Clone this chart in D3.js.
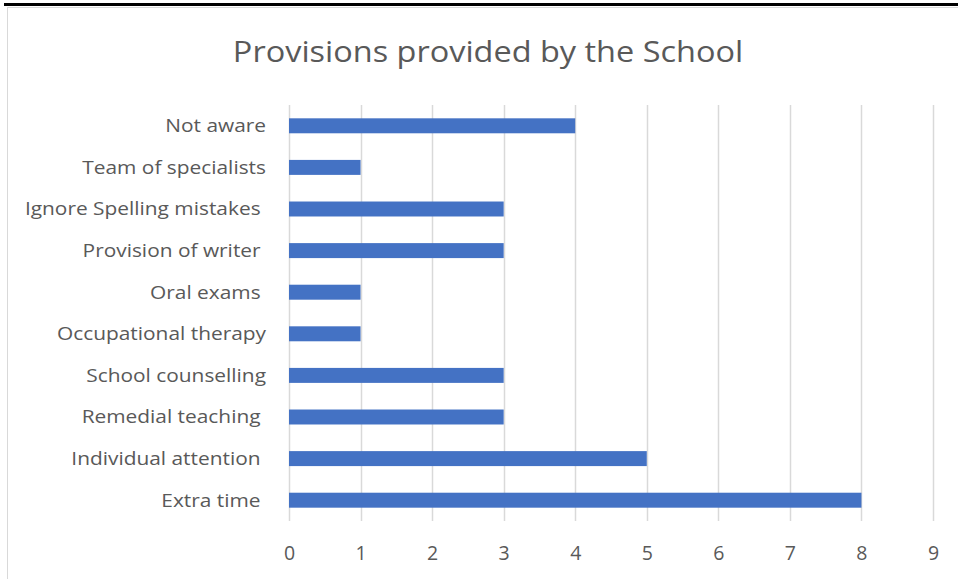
<!DOCTYPE html>
<html>
<head>
<meta charset="utf-8">
<script src="https://cdn.jsdelivr.net/npm/d3@7"></script>
<style>
  html, body { margin: 0; padding: 0; background: #fff; overflow: hidden; }
  svg { display: block; }
  text { font-family: "Open Sans", Lato, sans-serif; fill: #595959; white-space: pre; }
</style>
</head>
<body>
<svg id="chart" width="958" height="579"></svg>
<script>
// Provisions offered by the school, top to bottom
const categories = [
  "Not aware",
  "Team of specialists",
  "Ignore Spelling mistakes ",
  "Provision of writer ",
  "Oral exams ",
  "Occupational therapy",
  "School counselling",
  "Remedial teaching ",
  "Individual attention ",
  "Extra time "
];
const counts = [4, 1, 3, 3, 1, 1, 3, 3, 5, 8];
const xTicks = [0, 1, 2, 3, 4, 5, 6, 7, 8, 9];
const title = "Provisions provided by the School";

const svg = d3.select("#chart");
const W = 958, H = 579;
const FONT = "'Open Sans', Lato, sans-serif";

// page rule above the chart frame
svg.append("rect").attr("x", 4).attr("y", 3).attr("width", W - 4).attr("height", 3).attr("fill", "#000");

// chart frame
svg.append("rect")
  .attr("x", 7.5).attr("y", 7.5)
  .attr("width", W + 10).attr("height", H + 10)
  .attr("fill", "#fff").attr("stroke", "#d9d9d9").attr("stroke-width", 1);

const plot = { left: 289, right: 933, top: 105, bottom: 521 };

const x = d3.scaleLinear().domain([0, 9]).range([plot.left, plot.right]);
const y = d3.scaleBand().domain(categories).range([plot.top, plot.bottom]).paddingInner(0.64).paddingOuter(0.32);

// vertical gridlines
svg.append("g")
  .selectAll("line")
  .data(xTicks)
  .join("line")
  .attr("x1", d => Math.round(x(d)) + 0.5).attr("x2", d => Math.round(x(d)) + 0.5)
  .attr("y1", plot.top).attr("y2", plot.bottom)
  .attr("stroke", "#d9d9d9").attr("stroke-width", 1.5);

// bars
svg.append("g")
  .selectAll("rect")
  .data(categories.map((c, i) => ({ c, v: counts[i] })))
  .join("rect")
  .attr("x", x(0))
  .attr("y", d => y(d.c))
  .attr("width", d => x(d.v) - x(0))
  .attr("height", y.bandwidth())
  .attr("fill", "#4472c4");

// x axis labels
const xAxis = d3.axisBottom(x).tickValues(xTicks).tickSize(0).tickPadding(0).tickFormat(d3.format("d"));
const gx = svg.append("g").attr("transform", `translate(0,${plot.bottom})`).call(xAxis);
gx.select(".domain").remove();
gx.selectAll("text")
  .attr("y", 38.5).attr("dy", null)
  .style("font-size", "19.5px").style("fill", "#595959")
  .style("font-family", FONT);

// category labels (wide face: stretched horizontally, anchored at the right edge)
const yAxis = d3.axisLeft(y).tickSize(0).tickPadding(0);
const gy = svg.append("g").attr("transform", `translate(${plot.left - 23},0)`).call(yAxis);
gy.select(".domain").remove();
gy.selectAll("text")
  .attr("dy", "0.35em")
  .attr("transform", "scale(1.16,1)")
  .style("font-size", "18px").style("fill", "#595959")
  .style("font-family", FONT)
  .style("white-space", "pre");

// title
svg.append("g")
  .attr("transform", "translate(488,62) scale(1.12,1)")
  .append("text")
  .attr("text-anchor", "middle")
  .style("font-size", "29px")
  .text(title);
</script>
</body>
</html>
